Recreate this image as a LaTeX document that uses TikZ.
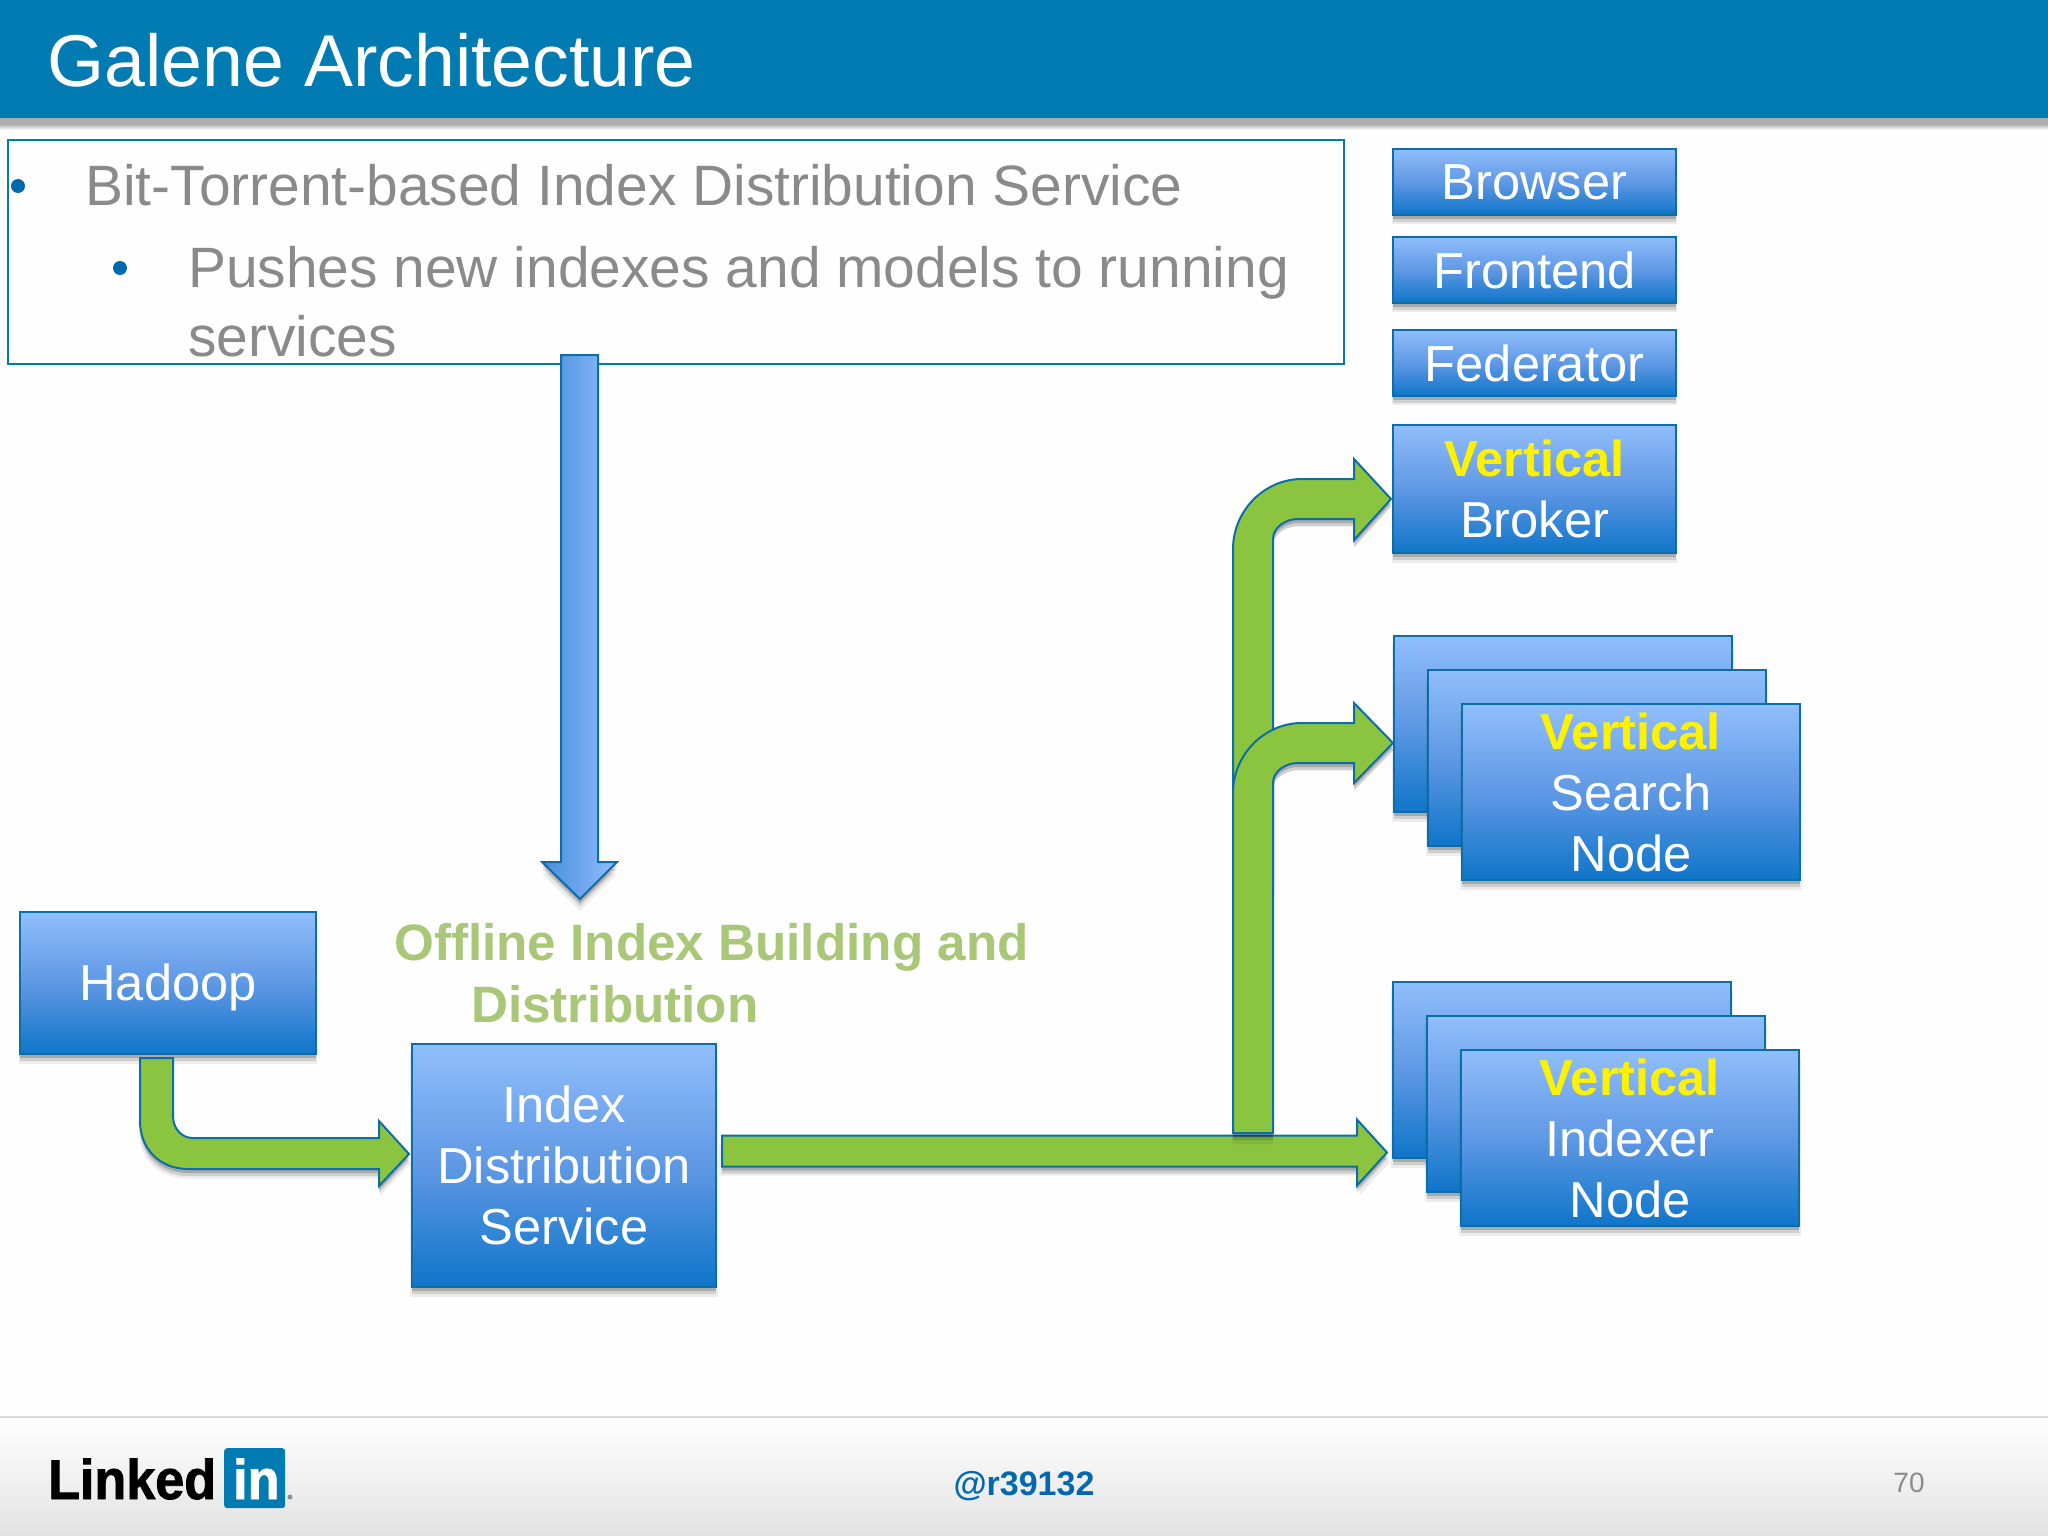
\documentclass[tikz,border=0pt]{standalone}
\usepackage{fontspec}
\setmainfont{Liberation Sans}
\usetikzlibrary{shadows}
\definecolor{headblue}{HTML}{027BB3}
\definecolor{linkblue}{HTML}{0B6EA8}
\definecolor{boxtop}{HTML}{90BEFB}
\definecolor{boxmid}{HTML}{5F98E4}
\definecolor{boxbot}{HTML}{0F75C9}
\definecolor{flowgreen}{HTML}{8BC53F}
\definecolor{bodygrey}{HTML}{8A8A8A}
\definecolor{labelgreen}{HTML}{A8C777}
\definecolor{bulletblue}{HTML}{0268B0}
\tikzset{
  softshadow/.style={
    drop shadow={shadow xshift=0pt,shadow yshift=-9pt,opacity=.07,fill=black,shadow scale=1.01},
    drop shadow={shadow xshift=0pt,shadow yshift=-7pt,opacity=.12,fill=black},
    drop shadow={shadow xshift=0pt,shadow yshift=-4pt,opacity=.18,fill=black}},
  box/.style={draw=linkblue,line width=2pt,top color=boxtop,bottom color=boxbot,middle color=boxmid,
    softshadow,text=white,align=center,anchor=north west,inner sep=0pt,
    font=\fontsize{50.6}{61}\selectfont},
  flow/.style={draw=linkblue,line width=2pt,fill=flowgreen,line join=miter,softshadow},
  body/.style={anchor=base west,inner sep=0pt,text=bodygrey,font=\fontsize{56.9}{68}\selectfont},
  lab/.style={anchor=base west,inner sep=0pt,text=labelgreen,font=\fontsize{51.2}{61}\selectfont\bfseries},
  bul/.style={circle,fill=bulletblue,inner sep=0pt,minimum size=14pt},
  logo/.style={anchor=base west,inner sep=0pt,
    font=\fontsize{56}{60}\selectfont\bfseries\addfontfeatures{FakeStretch=.93,FakeBold=1.5}},
}
\newcommand{\vrt}{\textcolor{yellow}{\bfseries Vertical}}
\begin{document}
\begin{tikzpicture}[x=1pt,y=-1pt]
\useasboundingbox (0,0) rectangle (2048,1536);
\fill[white!99.5!black] (0,0) rectangle (2048,1536);

% header
\fill[top color=black!32,bottom color=white] (0,124) rectangle (2048,130);
\fill[black!32] (0,118) rectangle (2048,124);
\fill[headblue] (0,0) rectangle (2048,118);
\node[anchor=base west,inner sep=0pt,text=white,font=\fontsize{73.4}{80}\selectfont] (title) at (47,87) {Galene Architecture};

% text box
\node[draw=headblue,line width=2pt,anchor=north west,inner sep=0pt,minimum width=1336pt,minimum height=224pt] (dist) at (7,139) {};
\node[bul] (b1) at (18,186) {};
\node[body] (t1) at (85,205) {Bit-Torrent-based Index Distribution Service};
\node[bul] (b2) at (120,268) {};
\node[body] (t2) at (188,287) {Pushes new indexes and models to running};
\node[body] (t3) at (188,356) {services};

% tier boxes
\node[box,minimum width=283pt,minimum height=66pt] (browser) at (1392,148) {Browser};
\node[box,minimum width=283pt,minimum height=66pt] (frontend) at (1392,236) {Frontend};
\node[box,minimum width=283pt,minimum height=66pt] (federator) at (1392,329) {Federator};
\node[box,minimum width=283pt,minimum height=128pt] (broker) at (1392,424) {\vrt\\Broker};

\node[box,minimum width=338pt,minimum height=176pt] (s1) at (1393,635) {};
\node[box,minimum width=338pt,minimum height=176pt] (s2) at (1427,669) {};
\node[box,minimum width=338pt,minimum height=176pt] (s3) at (1461,703) {\vrt\\Search\\Node};

\node[box,minimum width=338pt,minimum height=176pt] (x1) at (1392,981) {};
\node[box,minimum width=338pt,minimum height=176pt] (x2) at (1426,1015) {};
\node[box,minimum width=338pt,minimum height=176pt] (x3) at (1460,1049) {\vrt\\Indexer\\Node};

\node[box,minimum width=296pt,minimum height=142pt,text height=44.5pt] (hadoop) at (19,911) {Hadoop};
\node[box,minimum width=304pt,minimum height=243pt] (ids) at (411,1043) {Index\\Distribution\\Service};

\node[lab] (l1) at (394,960) {Offline Index Building and};
\node[lab] (l2) at (471,1022) {Distribution};

% index pushed down from the text box
\draw[draw=linkblue,line width=2pt,left color=boxmid!70!boxbot,right color=boxtop,softshadow]
  ([xshift=-115pt,yshift=10pt]dist.south) -- ++(37,0) -- ++(0,507) -- ++(19,0) -- ++(-37,37) -- ++(-38,-37) -- ++(19,0) -- cycle;

% hadoop to index service
\draw[flow] ([xshift=-28pt,yshift=-3pt]hadoop.south) -- ++(33,0) -- ++(0,58)
  .. controls +(0,12) and +(-12,0) .. ++(20,22) -- ++(186,0) -- ++(0,-17) -- ++(30,33) -- ++(-30,32) -- ++(0,-17)
  -- ++(-191,0) .. controls +(-28,0) and +(0,28) .. ++(-48,-48) -- cycle;

% index service to the indexers
\draw[flow] ([xshift=5pt,yshift=30pt]ids.east) -- ++(635,0) -- ++(0,-16) -- ++(30,33) -- ++(-30,33) -- ++(0,-19) -- ++(-635,0) -- cycle;

% index service to the brokers and search nodes
\draw[flow] ([xshift=-1pt,yshift=-10pt]broker.west) -- ++(-37,-40) -- ++(0,20) -- ++(-52,0)
  .. controls +(-38,0) and +(0,-38) .. ++(-69,70) -- ++(0,343) -- ++(40,0) -- ++(0,-353)
  .. controls +(0,-12) and +(-12,0) .. ++(25,-20) -- ++(56,0) -- ++(0,21) -- cycle;
\draw[flow] ([yshift=-19pt]s1.west) -- ++(-39,-40) -- ++(0,20) -- ++(-52,0)
  .. controls +(-38,0) and +(0,-38) .. ++(-69,70) -- ++(0,340) -- ++(40,0) -- ++(0,-350)
  .. controls +(0,-12) and +(-12,0) .. ++(25,-20) -- ++(56,0) -- ++(0,20) -- cycle;

% footer
\fill[top color=white,bottom color=black!11] (0,1417) rectangle (2048,1536);
\draw[black!15,line width=1.5pt] (0,1417) -- (2048,1417);
\node[logo] (linked) at (48,1499) {Linked};
\node[anchor=north west,inner sep=0pt,fill=headblue,rounded corners=3pt,minimum width=61pt,minimum height=60pt] (square) at (224,1448) {};
\node[logo,text=white] (in) at (233,1499) {in};
\node[circle,fill=black!45,inner sep=0pt,minimum size=5pt] (dot) at (290,1497) {};
\node[inner sep=0pt,text=bulletblue,font=\fontsize{34}{40}\selectfont\bfseries] (handle) at (1024,1486) {@r39132};
\node[inner sep=0pt,text=black!45,font=\fontsize{28}{32}\selectfont] (page) at (1909,1483) {70};
\end{tikzpicture}
\end{document}
